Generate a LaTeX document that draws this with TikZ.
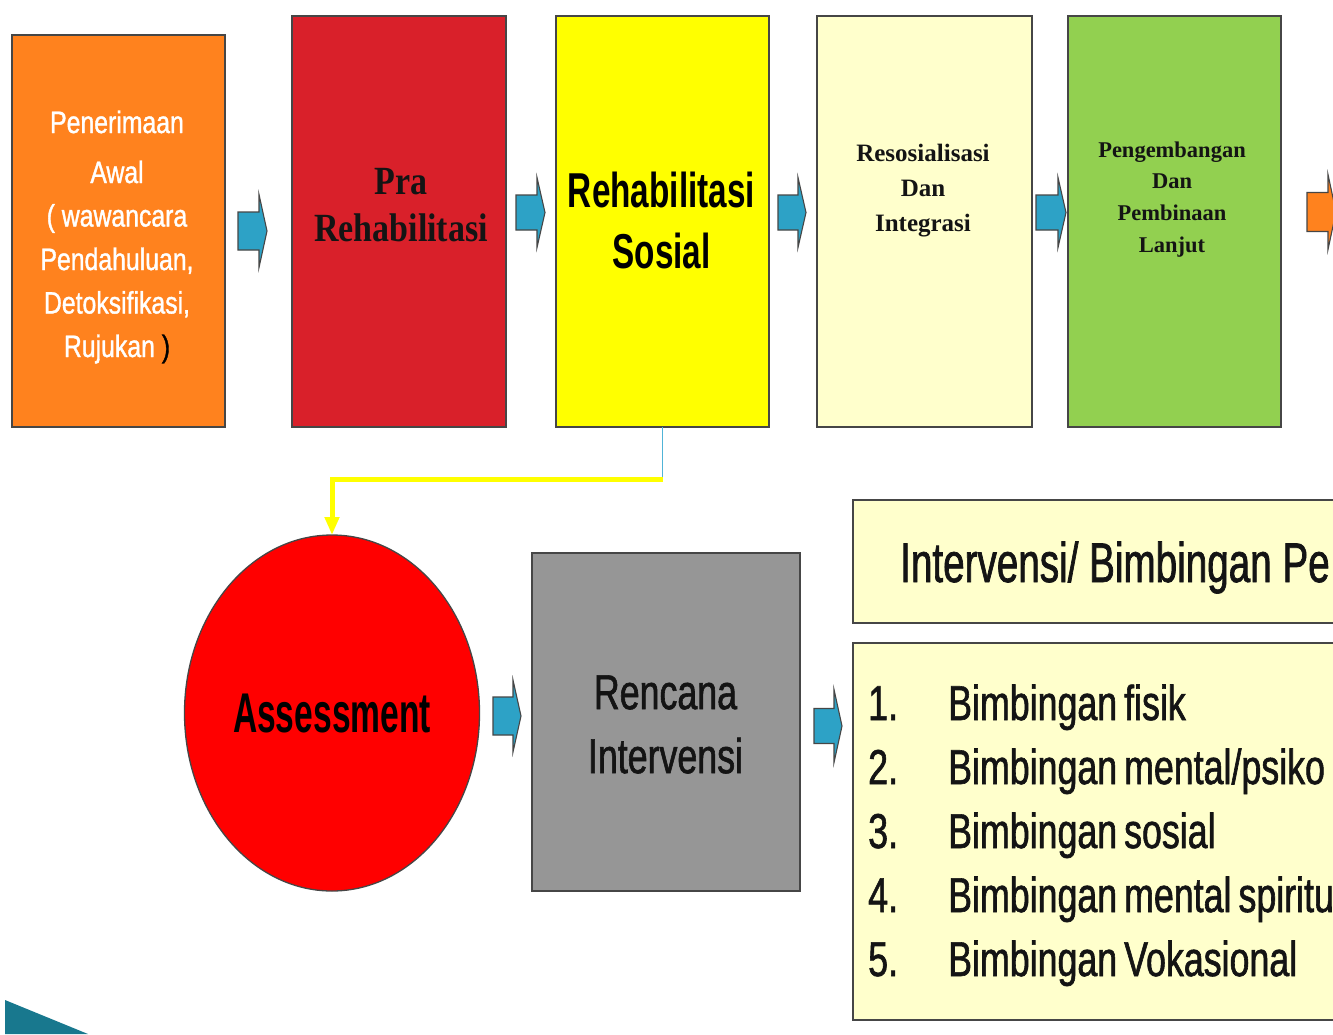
\documentclass[tikz,border=0pt]{standalone}
\usepackage{fontspec}
\setmainfont{Liberation Sans}
\newfontfamily\fnA[FakeStretch=0.8,FakeBold=1.2]{Liberation Sans}
\newfontfamily\fnB[FakeStretch=0.73,FakeBold=1.2]{Liberation Sans}
\newfontfamily\fnC[FakeStretch=0.68]{Liberation Sans}
\newfontfamily\fnD[FakeStretch=0.6]{Liberation Sans}
\newfontfamily\fnE[FakeStretch=0.69,FakeBold=1.2]{Liberation Sans}
\newfontfamily\fsA[FakeStretch=0.85]{Liberation Serif}
\newfontfamily\fsB{Liberation Serif}
\usetikzlibrary{arrows.meta,shapes.geometric}
\definecolor{cOrange}{RGB}{255,130,30}
\definecolor{cRed}{RGB}{217,32,42}
\definecolor{cYellow}{RGB}{255,255,0}
\definecolor{cLight}{RGB}{255,255,204}
\definecolor{cGreen}{RGB}{146,208,80}
\definecolor{cGrey}{RGB}{150,150,150}
\definecolor{cArrow}{RGB}{45,162,198}
\definecolor{cLine}{RGB}{70,70,70}
\definecolor{cTeal}{RGB}{24,120,142}
\definecolor{cCyanLine}{RGB}{80,180,215}
\definecolor{cText}{RGB}{20,20,20}
\newcommand{\blockarr}[7]{%
  \draw[blockarrow, fill=#7] (#1,{#4-#5}) -- (#2,{#4-#5}) -- (#2,{#4-#6}) -- (#3,#4)
    -- (#2,{#4+#6}) -- (#2,{#4+#5}) -- (#1,{#4+#5}) -- cycle;}
\tikzset{
  boxnode/.style={draw=cLine, line width=1.3pt, inner sep=0pt, outer sep=0pt},
  txt/.style={inner sep=0pt, align=center, text=cText},
  listtxt/.style={txt, anchor=base west, font={\fnB\fontsize{49pt}{55pt}\selectfont\spaceskip=7pt\relax}},
  blockarrow/.style={draw=cLine, line width=1.1pt, line join=miter},
  yline/.style={draw=cYellow, line width=5pt},
  cline/.style={draw=cCyanLine, line width=1.5pt}
}
\begin{document}
\begin{tikzpicture}[x=1pt,y=-1pt]
\useasboundingbox (0,0) rectangle (1333,1034);
\fill[white] (0,0) rectangle (1333,1034);
\clip (0,0) rectangle (1333,1034);

% top row boxes
\node[boxnode, fill=cOrange, minimum width=213pt, minimum height=392pt] (pa) at (118.5,231) {};
\node[boxnode, fill=cRed, minimum width=214pt, minimum height=411pt] (pr) at (399,221.5) {};
\node[boxnode, fill=cYellow, minimum width=213pt, minimum height=411pt] (rs) at (662.5,221.5) {};
\node[boxnode, fill=cLight, minimum width=215pt, minimum height=411pt] (ri) at (924.5,221.5) {};
\node[boxnode, fill=cGreen, minimum width=213pt, minimum height=411pt] (pp) at (1174.5,221.5) {};

\node[txt, text=white, font={\fnA\fontsize{31pt}{43.5pt}\selectfont}] (paT) at (117,237)
  {Penerimaan\\[6.5pt] Awal\\ ( wawancara\\ Pendahuluan,\\ Detoksifikasi,\\ Rujukan {\color{black})}};
\node[txt, font={\fsA\bfseries\fontsize{40pt}{47pt}\selectfont}] (prT) at (401,205)
  {Pra\\ Rehabilitasi};
\node[txt, font={\fnC\bfseries\fontsize{49pt}{61pt}\selectfont}, text=black] (rsT) at (661.5,220)
  {Rehabilitasi\\ Sosial};
\node[txt, font={\fsB\bfseries\fontsize{25pt}{35pt}\selectfont}] (riT) at (923,191)
  {Resosialisasi\\ Dan\\ Integrasi};
\node[txt, font={\fsB\bfseries\fontsize{22.5pt}{31.7pt}\selectfont}] (ppT) at (1172,199.3)
  {Pengembangan\\ Dan\\ Pembinaan\\ Lanjut};

% block arrows, top row
\blockarr{238}{259}{267}{231}{19}{36.5}{cArrow}
\blockarr{516}{537}{545}{212.5}{17.5}{35}{cArrow}
\blockarr{778}{798}{806}{212.5}{17.5}{35}{cArrow}
\blockarr{1036}{1058}{1066}{212.5}{17.5}{35}{cArrow}
\blockarr{1307}{1328}{1336}{212}{19.5}{37.5}{cOrange}

% bottom part
\node[boxnode, ellipse, fill=red, draw=cLine, minimum width=295pt, minimum height=356pt,
      font={\fnD\bfseries\fontsize{56pt}{60pt}\selectfont}, text=black] (ass) at (332,713) {Assessment};
\node[boxnode, fill=cGrey, minimum width=268pt, minimum height=338pt] (ri2) at (666,722) {};
\node[txt, font={\fnB\fontsize{49pt}{64pt}\selectfont}] (ri2T) at (665.5,724.5) {Rencana\\ Intervensi};

\node[boxnode, fill=cLight, anchor=north west, minimum width=500pt, minimum height=123pt] (hd) at (853,500) {};
\node[txt, anchor=base west, font={\fnE\fontsize{56pt}{60pt}\selectfont}] (hdT) at (900,582)
  {Intervensi/ Bimbingan Pe};

\node[boxnode, fill=cLight, anchor=north west, minimum width=500pt, minimum height=377pt] (ls) at (853,643) {};
\foreach \n/\t/\y in {1/Bimbingan fisik/720, 2/Bimbingan mental\slash psiko/784,
  3/Bimbingan sosial/848, 4/Bimbingan mental spiritu/912, 5/Bimbingan Vokasional/976}{
  \node[listtxt] (num\n) at (868,\y) {\n.};
  \node[listtxt] (item\n) at (948,\y) {\t};
}

\blockarr{493}{513}{521}{716}{19}{36}{cArrow}
\blockarr{814}{834}{842}{726}{17.5}{36.5}{cArrow}

% connector from Rehabilitasi Sosial to Assessment
\coordinate (elb) at (662.5,479);
\draw[cline] (rs.south) -- (elb);
\draw[yline, -{Triangle[length=18pt,width=14pt]}] (elb) -| (ass.north);

% decorative corner
\fill[cTeal] (5,1000) -- (88,1034) -- (5,1034) -- cycle;
\end{tikzpicture}
\end{document}
